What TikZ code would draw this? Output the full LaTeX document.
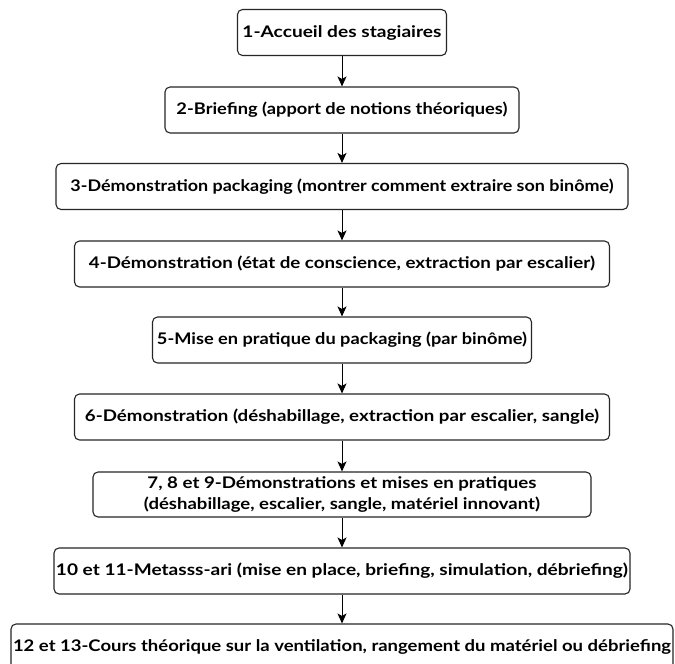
\documentclass[tikz,border=0pt]{standalone}
\usepackage{fontspec}
\setmainfont{Lato}
\usetikzlibrary{arrows.meta}
\newcommand{\fitw}[2]{\resizebox{#1pt}{\height}{#2}}
\begin{document}
\begin{tikzpicture}[x=1pt,y=-1pt,
  box/.style={draw=black!85, line width=1.1pt, rounded corners=5pt, fill=white,
    inner sep=0pt, minimum height=46pt, align=center,
    font=\fontsize{16}{22}\selectfont\bfseries},
  arr/.style={-{Stealth[length=10pt,width=9pt,inset=2.5pt]}, line width=1pt}]
\clip (0,0) rectangle (675,664);
\fill[white] (0,0) rectangle (675,664);
\node[box, minimum width=209pt] (n1) at (342,32.5) {\fitw{199}{1-Accueil des stagiaires}};
\node[box, minimum width=354pt] (n2) at (342,110) {\fitw{331}{2-Briefing (apport de notions théoriques)}};
\node[box, minimum width=572pt] (n3) at (342,186.5) {\fitw{543}{3-Démonstration packaging (montrer comment extraire son binôme)}};
\node[box, minimum width=535pt] (n4) at (342,264) {\fitw{506}{4-Démonstration (état de conscience, extraction par escalier)}};
\node[box, minimum width=379pt] (n5) at (342,340) {\fitw{370}{5-Mise en pratique du packaging (par binôme)}};
\node[box, minimum width=535pt] (n6) at (342,417) {\fitw{514}{6-Démonstration (déshabillage, extraction par escalier, sangle)}};
\node[box, minimum width=498pt, minimum height=45pt] (n7) at (342,494.5) {\fitw{389}{7, 8 et 9-Démonstrations et mises en pratiques}\\[-1pt]\fitw{396}{(déshabillage, escalier, sangle, matériel innovant)}};
\node[box, minimum width=576pt] (n8) at (342,571) {\fitw{572}{10 et 11-Metasss-ari (mise en place, briefing, simulation, débriefing)}};
\node[box, minimum width=662pt] (n9) at (342,647) {\fitw{658}{12 et 13-Cours théorique sur la ventilation, rangement du matériel ou débriefing}};
\draw[arr] (n1) -- (n2);
\draw[arr] (n2) -- (n3);
\draw[arr] (n3) -- (n4);
\draw[arr] (n4) -- (n5);
\draw[arr] (n5) -- (n6);
\draw[arr] (n6) -- (n7);
\draw[arr] (n7) -- (n8);
\draw[arr] (n8) -- (n9);
\end{tikzpicture}
\end{document}
